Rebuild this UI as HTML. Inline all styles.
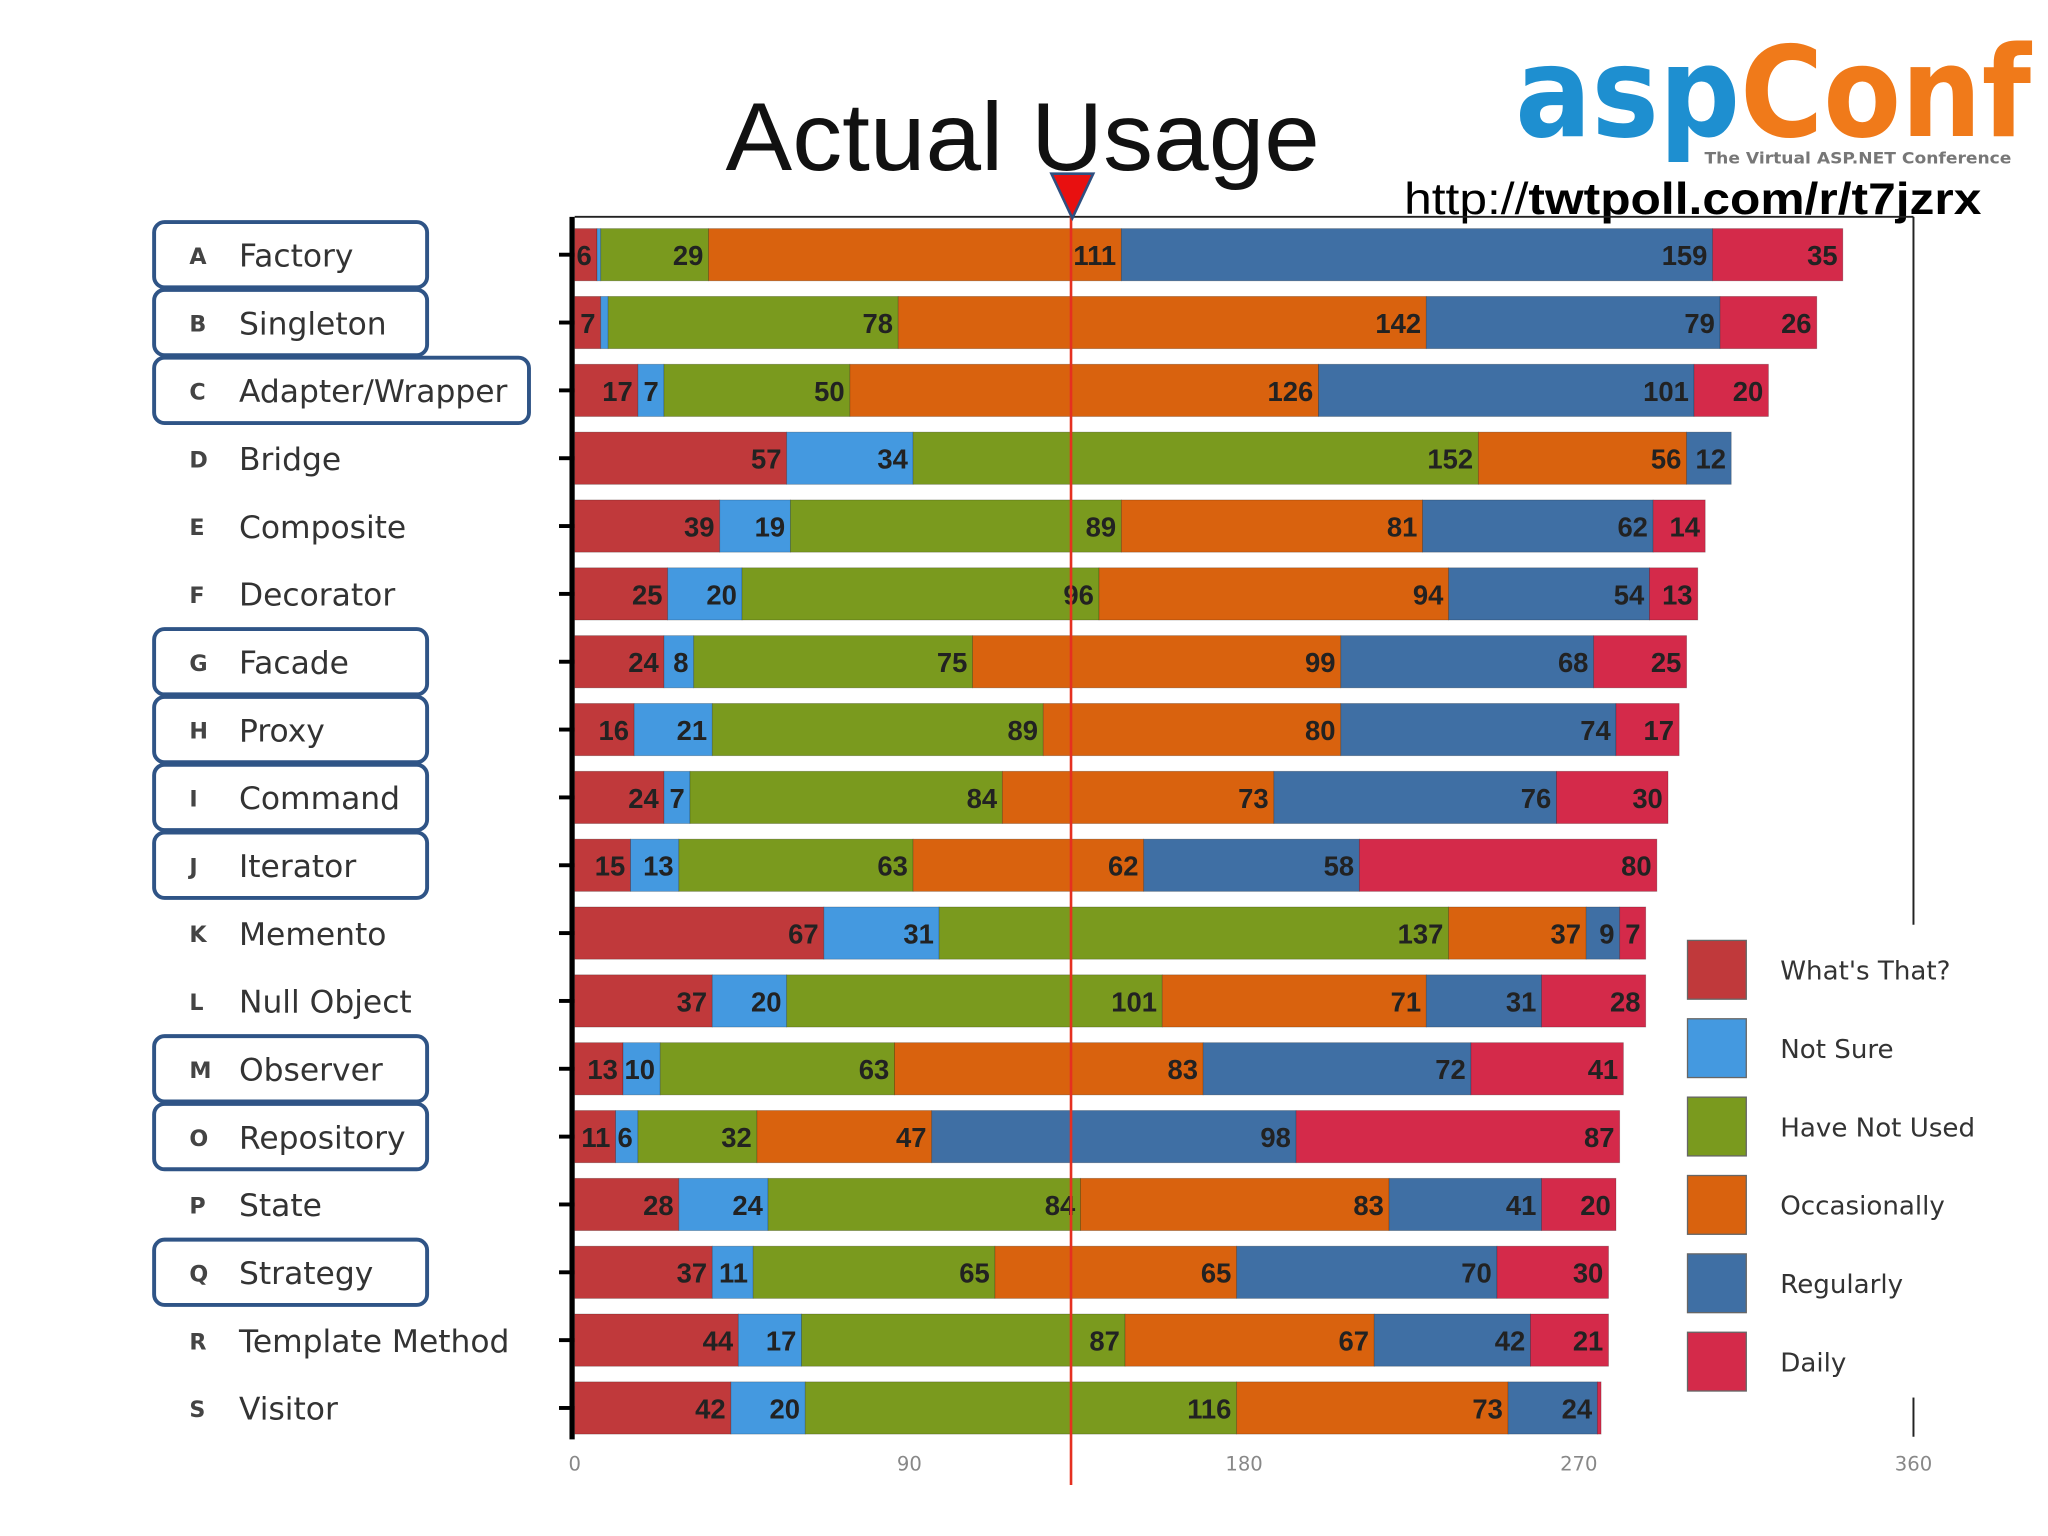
<!DOCTYPE html>
<html><head><meta charset="utf-8"><style>
html,body{margin:0;padding:0;background:#fff;}
svg{display:block;}
text{font-family:"DejaVu Sans","Liberation Sans",sans-serif;}
</style></head><body>
<svg id="chart" width="2048" height="1536" viewBox="0 0 1568 1176" xmlns="http://www.w3.org/2000/svg">
<rect width="1568" height="1176" fill="#fff"/>
<text x="783" y="130" text-anchor="middle" font-size="74" textLength="455" lengthAdjust="spacingAndGlyphs" style="font-family:'Liberation Sans',sans-serif" fill="#111">Actual Usage</text>
<g>
<text x="1160" y="104" font-size="96" font-weight="bold" textLength="395" lengthAdjust="spacingAndGlyphs" style="font-family:'DejaVu Sans',sans-serif"><tspan fill="#1e8fd0">asp</tspan><tspan fill="#f07a1a">Conf</tspan></text>
<text x="1305" y="125" font-size="12" fill="#777" font-weight="bold" textLength="235" lengthAdjust="spacingAndGlyphs">The Virtual ASP.NET Conference</text>
</g>
<text x="1075" y="164" font-size="34" textLength="442" lengthAdjust="spacingAndGlyphs" style="font-family:'Liberation Sans',sans-serif" fill="#000">http://<tspan font-weight="bold">twtpoll.com/r/t7jzrx</tspan></text>
<g id="frame"></g>
<g id="bars"></g>
<g id="labels"></g>
<g id="legend"></g>
</svg>
<script>
const categories=["Factory","Singleton","Adapter/Wrapper","Bridge","Composite","Decorator","Facade","Proxy","Command","Iterator","Memento","Null Object","Observer","Repository","State","Strategy","Template Method","Visitor"];
const letters=["A","B","C","D","E","F","G","H","I","J","K","L","M","O","P","Q","R","S"];
const boxed=[1,1,1,0,0,0,1,1,1,1,0,0,1,1,0,1,0,0];
const whatsThat=[6,7,17,57,39,25,24,16,24,15,67,37,13,11,28,37,44,42];
const notSure=[1,2,7,34,19,20,8,21,7,13,31,20,10,6,24,11,17,20];
const haveNotUsed=[29,78,50,152,89,96,75,89,84,63,137,101,63,32,84,65,87,116];
const occasionally=[111,142,126,56,81,94,99,80,73,62,37,71,83,47,83,65,67,73];
const regularly=[159,79,101,12,62,54,68,74,76,58,9,31,72,98,41,70,42,24];
const daily=[35,26,20,0,14,13,25,17,30,80,7,28,41,87,20,30,21,1];
const seriesNames=["What's That?","Not Sure","Have Not Used","Occasionally","Regularly","Daily"];
const ticks=[0,90,180,270,360];
const series=[whatsThat,notSure,haveNotUsed,occasionally,regularly,daily];
const colors=["#c0393b","#4499e0","#7a9a1e","#d9620e","#3f6fa4","#d42a4a"];
const NS="http://www.w3.org/2000/svg";
const x0=440,x1=1465,maxV=360;
const xs=v=>x0+v*(x1-x0)/maxV;
const yc=i=>195+i*51.94;
const bh=40;
function mk(tag,attrs,parent,txt){const e=document.createElementNS(NS,tag);for(const k in attrs)e.setAttribute(k,attrs[k]);if(txt!==undefined)e.textContent=txt;parent.appendChild(e);return e;}
const frame=document.getElementById('frame'),bars=document.getElementById('bars'),labels=document.getElementById('labels'),legend=document.getElementById('legend');
let el;
el=mk('line',{x1:x0,y1:166,x2:x1,y2:166,stroke:'#222','stroke-width':1.5},frame);


el=mk('line',{x1:x1,y1:166,x2:x1,y2:1100,stroke:'#222','stroke-width':1.5},frame);


el=mk('line',{x1:x0-2,y1:166,x2:x0-2,y2:1102,stroke:'#000','stroke-width':4},frame);


ticks.forEach(t=>{
  el=mk('text',{x:xs(t),y:1126,'text-anchor':'middle','font-size':15,fill:'#888'},frame,String(t));
  
  
});
categories.forEach((c,i)=>{
  const y=yc(i);
  el=mk('line',{x1:428,y1:y,x2:x0,y2:y,stroke:'#000','stroke-width':3},frame);
  
  
  if(boxed[i]){
    el=mk('rect',{x:118,y:y-25,width:i===2?287:209,height:50,rx:8,fill:'none',stroke:'#2f5486','stroke-width':3},labels);
    
    
  }
  el=mk('text',{x:145,y:y+7,'font-size':17,'font-weight':'bold',fill:'#444'},labels,letters[i]);
  
  
  el=mk('text',{x:183,y:y+9,'font-size':24,fill:'#333'},labels,c);
  
  
  let acc=0;
  series.forEach((s,k)=>{
    const v=s[i]; if(!v)return;
    const a=xs(acc),b=xs(acc+v);
    el=mk('rect',{x:a,y:y-bh/2,width:b-a,height:bh,fill:colors[k],stroke:'rgba(0,0,0,0.25)','stroke-width':0.6},bars);
    
    
    if(b-a>8){
      el=mk('text',{x:b-4,y:y+8,'text-anchor':'end','font-size':21,'font-weight':'bold',fill:'#222',style:"font-family:'Liberation Sans',sans-serif"},bars,String(v));
      
      
    }
    acc+=v;
  });
});
el=mk('line',{x1:820,y1:140,x2:820,y2:1137,stroke:'#e53020','stroke-width':2},frame.parentNode);


el=mk('polygon',{points:'805,133 837,133 821,167',fill:'#e81010',stroke:'#2f4f80','stroke-width':2},frame.parentNode);


el=mk('rect',{x:1280,y:708,width:187,height:362,fill:'#fff'},legend);


seriesNames.forEach((n,k)=>{
  const y=720+k*60;
  el=mk('rect',{x:1292,y:y,width:45,height:45,fill:colors[k],stroke:'#666','stroke-width':1},legend);
  
  
  el=mk('text',{x:1363,y:y+30,'font-size':20,fill:'#333'},legend,n);
  
  
});
</script>
</body></html>
